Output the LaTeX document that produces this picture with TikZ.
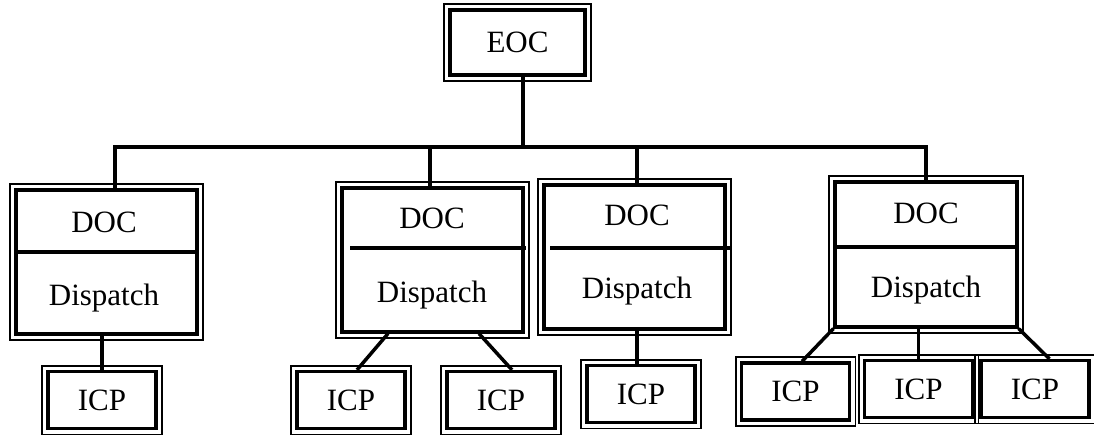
\documentclass[tikz,border=0pt]{standalone}
\usepackage{fontspec}
\setmainfont{Liberation Serif}
\newcommand\outerframe[1]{\draw[outerb] ([shift={(-4.3,-4.3)}]#1.north west) rectangle ([shift={(4.3,4.3)}]#1.south east);}
\tikzset{
 box/.style={draw, line width=3.2pt, rectangle, inner sep=0pt, font=\fontsize{31}{37}\selectfont},
 docbox/.style={box, minimum width=181pt, minimum height=144pt},
 icpbox/.style={box, minimum width=108pt, minimum height=57pt},
 outerb/.style={line width=1.8pt},
 conn/.style={line width=3.5pt},
 divider/.style={line width=3.5pt},
 lbl/.style={anchor=base, inner sep=0pt, font=\fontsize{31}{37}\selectfont},
}
\begin{document}
\begin{tikzpicture}[x=1pt,y=-1pt]
\useasboundingbox (0,0) rectangle (1094,434);
% top
\node[box, minimum width=135pt, minimum height=65pt] (eoc) at (517.5,42.5) {EOC};
% DOC boxes
\node[docbox] (d1) at (106.5,262) {};
\node[docbox] (d2) at (432.5,260) {};
\node[docbox] (d3) at (634.5,257) {};
\node[docbox, minimum width=182pt, minimum height=145pt] (d4) at (926,254.5) {};
\node[lbl] (d1a) at (104,232) {DOC};
\node[lbl] (d1b) at (104,305) {Dispatch};
\node[lbl] (d2a) at (432,228) {DOC};
\node[lbl] (d2b) at (432,302) {Dispatch};
\node[lbl] (d3a) at (637,225) {DOC};
\node[lbl] (d3b) at (637,298) {Dispatch};
\node[lbl] (d4a) at (926,223) {DOC};
\node[lbl] (d4b) at (926,297) {Dispatch};
\draw[divider] (d1.west |- 0,252) -- (d1.east |- 0,252);
\draw[divider] (350,248) -- (526,248);
\draw[divider] (550,248) -- (732,248);
\draw[divider] (d4.west |- 0,247) -- (d4.east |- 0,247);
% ICP boxes
\node[icpbox] (i1) at (102,400) {ICP};
\node[icpbox] (i2) at (351,400) {ICP};
\node[icpbox] (i3) at (501,400) {ICP};
\node[icpbox] (i4) at (641,394) {ICP};
\node[icpbox] (i5) at (795.5,391.5) {ICP};
\node[icpbox] (i6) at (918.5,389) {ICP};
\node[icpbox] (i7) at (1035,389) {ICP};
% outer frames
\outerframe{eoc}
\outerframe{d1}\outerframe{d2}\outerframe{d3}\outerframe{d4}
\outerframe{i1}\outerframe{i2}\outerframe{i3}\outerframe{i4}
\outerframe{i5}\outerframe{i6}\outerframe{i7}
% bus
\coordinate (bus) at (523,147);
\draw[conn] ([xshift=8.5pt]d1.north) |- (bus) -| (d4.north);
\draw[conn] (eoc.south -| bus) -- (bus);
\draw[conn] ([xshift=-2.5pt]d2.north) -- ([xshift=-2.5pt]d2.north |- bus);
\draw[conn] ([xshift=2.5pt]d3.north) -- ([xshift=2.5pt]d3.north |- bus);
% lower connectors
\draw[conn] (i1.north) -- (i1.north |- d1.south);
\draw[conn] ([xshift=-44.5pt]d2.south) -- ([xshift=6pt]i2.north);
\draw[conn] ([xshift=46.5pt]d2.south) -- ([xshift=11pt]i3.north);
\draw[conn] ([xshift=-4pt]i4.north) -- ([xshift=-4pt]i4.north |- d3.south);
\draw[conn] (d4.south west) -- ([xshift=6.5pt]i5.north);
\draw[conn] (i6.north) -- (i6.north |- d4.south);
\draw[conn] (d4.south east) -- ([xshift=14.5pt]i7.north);
\end{tikzpicture}
\end{document}
